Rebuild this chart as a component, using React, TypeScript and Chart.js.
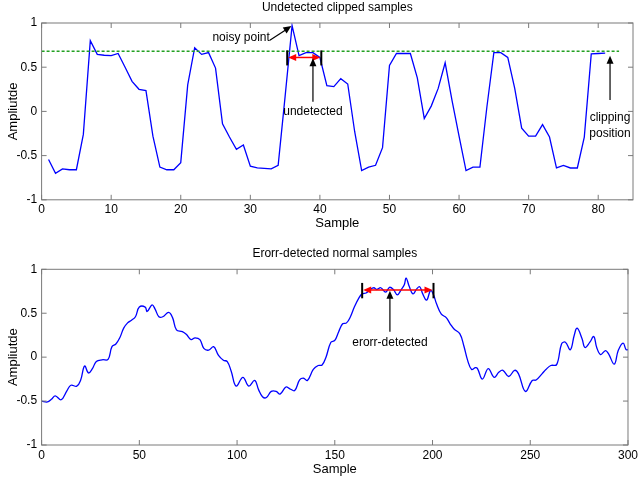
import { useEffect, useRef } from "react";
import { Chart, registerables } from "chart.js";

Chart.register(...registerables);

// ---------- data ----------
const topSamples = [
  1, 2, 3, 4, 5, 6, 7, 8, 9, 10, 11, 12, 13, 14, 15, 16, 17, 18, 19, 20,
  21, 22, 23, 24, 25, 26, 27, 28, 29, 30, 31, 32, 33, 34, 35, 36, 37, 38, 39, 40,
  41, 42, 43, 44, 45, 46, 47, 48, 49, 50, 51, 52, 53, 54, 55, 56, 57, 58, 59, 60,
  61, 62, 63, 64, 65, 66, 67, 68, 69, 70, 71, 72, 73, 74, 75, 76, 77, 78, 79, 80, 81,
];
const topAmplitude = [
  -0.545, -0.7, -0.65, -0.66, -0.66, -0.26, 0.8, 0.645, 0.635, 0.63,
  0.655, 0.5, 0.34, 0.25, 0.235, -0.28, -0.63, -0.66, -0.66, -0.58,
  0.3, 0.72, 0.645, 0.665, 0.49, -0.14, -0.29, -0.43, -0.38, -0.62,
  -0.64, -0.645, -0.65, -0.61, 0.17, 0.97, 0.63, 0.665, 0.665, 0.61,
  0.29, 0.28, 0.37, 0.31, -0.23, -0.67, -0.63, -0.61, -0.41, 0.52,
  0.655, 0.655, 0.655, 0.38, -0.08, 0.06, 0.26, 0.55, 0.12, -0.28,
  -0.67, -0.63, -0.63, 0.05, 0.665, 0.665, 0.61, 0.26, -0.19, -0.28,
  -0.28, -0.15, -0.29, -0.64, -0.61, -0.64, -0.64, -0.29, 0.65, 0.655, 0.66,
];
const clipSamples = [0, 83];
const clipLevel = [0.68, 0.68];

const bottomSamples = [
  0, 3, 5, 7, 10, 13, 15, 18, 20, 22, 24, 26, 28, 31, 34, 36, 38, 40, 42, 44,
  46, 48, 50, 53, 54, 56.5, 58, 60, 62, 65, 67, 69, 72, 74, 76.5, 78.5, 81, 83, 85.5, 88,
  90.5, 93, 95, 97, 99.5, 103, 106, 109, 111, 113, 115, 117.5, 120, 122, 125, 127, 129.5, 132, 134, 136,
  139, 141.5, 143.5, 145.5, 148, 150, 152, 154, 156, 158, 160, 162.5, 164, 166, 168, 170, 171.5, 173.5, 176, 178,
  180, 182, 184, 185.5, 186.5, 188, 190, 192, 193.5, 195, 197, 199, 200.5, 202, 204.5, 207, 209, 211, 214, 216,
  218, 220, 222, 223, 225.5, 228.5, 231.5, 234, 236, 239, 242, 244, 247.5, 251, 253, 256, 258, 260.5, 263.5, 266,
  268, 270.5, 272.5, 274, 276.5, 278, 280.5, 282.5, 284, 286, 288.5, 290, 293, 295, 297.5, 299, 300,
];
const bottomAmplitude = [
  -0.5, -0.51, -0.48, -0.44, -0.485, -0.38, -0.32, -0.33, -0.26, -0.1, -0.18, -0.13, -0.05, -0.03, -0.025, 0.12, 0.15, 0.22, 0.33, 0.39,
  0.42, 0.46, 0.57, 0.57, 0.52, 0.595, 0.55, 0.46, 0.46, 0.51, 0.45, 0.31, 0.29, 0.26, 0.2, 0.22, 0.2, 0.1, 0.08, 0.12,
  0.02, -0.035, -0.05, -0.16, -0.33, -0.23, -0.33, -0.265, -0.37, -0.45, -0.46, -0.39, -0.39, -0.42, -0.34, -0.36, -0.38, -0.26, -0.24, -0.265,
  -0.14, -0.095, -0.09, 0.0, 0.17, 0.19, 0.29, 0.38, 0.39, 0.46, 0.57, 0.68, 0.72, 0.73, 0.77, 0.79, 0.77, 0.79, 0.74, 0.795,
  0.77, 0.71, 0.77, 0.82, 0.9, 0.81, 0.72, 0.78, 0.8, 0.72, 0.65, 0.76, 0.71, 0.61, 0.49, 0.45, 0.38, 0.32, 0.265, 0.13,
  -0.04, -0.14, -0.12, -0.13, -0.25, -0.13, -0.23, -0.17, -0.15, -0.22, -0.15, -0.19, -0.39, -0.265, -0.26, -0.19, -0.14, -0.095, -0.085, 0.15,
  0.17, 0.085, 0.25, 0.33, 0.21, 0.11, 0.17, 0.235, 0.11, 0.03, 0.075, 0.04, -0.08, 0.075, 0.16, 0.085, 0.085,
];

const topTitle = "Undetected clipped samples";
const bottomTitle = "Erorr-detected normal samples";
const xAxisLabel = "Sample";
const yAxisLabel = "Ampliutde";

const FONT = "'Liberation Sans', Arial, sans-serif";

type Ann = (ctx: CanvasRenderingContext2D, chart: any) => void;

function head(ctx: CanvasRenderingContext2D, fx: number, fy: number, tx: number, ty: number, len: number, half: number, color: string) {
  const a = Math.atan2(ty - fy, tx - fx);
  const bx = tx - len * Math.cos(a);
  const by = ty - len * Math.sin(a);
  ctx.beginPath();
  ctx.moveTo(tx, ty);
  ctx.lineTo(bx + half * Math.sin(a), by - half * Math.cos(a));
  ctx.lineTo(bx - half * Math.sin(a), by + half * Math.cos(a));
  ctx.closePath();
  ctx.fillStyle = color;
  ctx.fill();
}

function line(ctx: CanvasRenderingContext2D, x1: number, y1: number, x2: number, y2: number, color: string, w: number) {
  ctx.beginPath();
  ctx.moveTo(x1, y1);
  ctx.lineTo(x2, y2);
  ctx.strokeStyle = color;
  ctx.lineWidth = w;
  ctx.stroke();
}

function text(ctx: CanvasRenderingContext2D, s: string, x: number, y: number, size: number) {
  ctx.font = `${size}px ${FONT}`;
  ctx.fillStyle = "#000";
  ctx.textAlign = "center";
  ctx.textBaseline = "middle";
  ctx.fillText(s, x, y);
}

function bracketArrow(ctx: CanvasRenderingContext2D, chart: any, x1: number, x2: number, yArrow: number, yBarLo: number, yBarHi: number) {
  const sx = chart.scales.x;
  const sy = chart.scales.y;
  const px1 = sx.getPixelForValue(x1);
  const px2 = sx.getPixelForValue(x2);
  const py = sy.getPixelForValue(yArrow);
  line(ctx, px1 + 4, py, px2 - 4, py, "#ff0000", 1.5);
  head(ctx, px2 - 1, py, px1 + 1, py, 8, 3.5, "#ff0000");
  head(ctx, px1 + 1, py, px2 - 1, py, 8, 3.5, "#ff0000");
  const t = sy.getPixelForValue(yBarHi);
  const b = sy.getPixelForValue(yBarLo);
  line(ctx, px1, t, px1, b, "#000", 2);
  line(ctx, px2, t, px2, b, "#000", 2);
}

function blackArrow(ctx: CanvasRenderingContext2D, chart: any, x1: number, y1: number, x2: number, y2: number) {
  const sx = chart.scales.x;
  const sy = chart.scales.y;
  const a = sx.getPixelForValue(x1);
  const b = sy.getPixelForValue(y1);
  const c = sx.getPixelForValue(x2);
  const d = sy.getPixelForValue(y2);
  const ang = Math.atan2(d - b, c - a);
  line(ctx, a, b, c - 6 * Math.cos(ang), d - 6 * Math.sin(ang), "#000", 1.2);
  head(ctx, a, b, c, d, 8, 3.5, "#000");
}

const topAnn: Ann = (ctx, chart) => {
  const sx = chart.scales.x;
  const sy = chart.scales.y;
  bracketArrow(ctx, chart, 35.3, 40.2, 0.61, 0.52, 0.69);
  blackArrow(ctx, chart, 39.0, 0.11, 39.0, 0.6);
  text(ctx, "undetected", sx.getPixelForValue(39.0), sy.getPixelForValue(0.0), 12);
  blackArrow(ctx, chart, 32.8, 0.805, 35.9, 0.965);
  ctx.font = `12px ${FONT}`;
  ctx.textAlign = "right";
  ctx.textBaseline = "middle";
  ctx.fillStyle = "#000";
  ctx.fillText("noisy point", sx.getPixelForValue(32.8), sy.getPixelForValue(0.83));
  blackArrow(ctx, chart, 81.7, 0.13, 81.7, 0.63);
  text(ctx, "clipping", sx.getPixelForValue(81.7), sy.getPixelForValue(-0.075), 12);
  text(ctx, "position", sx.getPixelForValue(81.7), sy.getPixelForValue(-0.255), 12);
};

const bottomAnn: Ann = (ctx, chart) => {
  const sx = chart.scales.x;
  const sy = chart.scales.y;
  bracketArrow(ctx, chart, 164, 200.5, 0.765, 0.67, 0.845);
  blackArrow(ctx, chart, 178.2, 0.29, 178.2, 0.755);
  text(ctx, "erorr-detected", sx.getPixelForValue(178.2), sy.getPixelForValue(0.17), 12);
};

function makeChart(
  canvas: HTMLCanvasElement,
  datasets: any[],
  xMax: number,
  xStep: number,
  title: string,
  titleY: number,
  padTop: number,
  xAxisHeight: number,
  xTitlePad: number,
  ann: Ann
) {
  const framePlugin = {
    id: "frame",
    afterDatasetsDraw(chart: any) {
      const { ctx, chartArea: a } = chart;
      ctx.save();
      ctx.strokeStyle = "#7a7a7a";
      ctx.lineWidth = 1;
      ctx.strokeRect(a.left, a.top, a.right - a.left, a.bottom - a.top);
      const sx = chart.scales.x;
      const sy = chart.scales.y;
      ctx.beginPath();
      for (const t of sx.ticks) {
        const p = sx.getPixelForValue(t.value);
        ctx.moveTo(p, a.bottom);
        ctx.lineTo(p, a.bottom - 5);
        ctx.moveTo(p, a.top);
        ctx.lineTo(p, a.top + 5);
      }
      for (const t of sy.ticks) {
        const p = sy.getPixelForValue(t.value);
        ctx.moveTo(a.left, p);
        ctx.lineTo(a.left + 5, p);
        ctx.moveTo(a.right, p);
        ctx.lineTo(a.right - 5, p);
      }
      ctx.stroke();
      text(ctx, title, (a.left + a.right) / 2, titleY, 12);
      ann(ctx, chart);
      ctx.restore();
    },
  };

  return new Chart(canvas, {
    type: "line",
    data: { datasets },
    options: {
      animation: false,
      responsive: false,
      events: [],
      layout: { padding: { left: 0, right: 8, top: padTop, bottom: 0 } },
      plugins: { legend: { display: false }, tooltip: { enabled: false }, title: { display: false } },
      scales: {
        x: {
          type: "linear",
          min: 0,
          max: xMax,
          grid: { display: false, drawTicks: false },
          border: { display: false },
          ticks: { stepSize: xStep, includeBounds: false, padding: 3, color: "#000", font: { family: FONT, size: 12 }, maxRotation: 0 },
          title: { display: true, text: xAxisLabel, color: "#000", font: { family: FONT, size: 13 }, padding: { top: 0, bottom: xTitlePad } },
          afterFit: (s: any) => {
            s.height = xAxisHeight;
          },
        },
        y: {
          min: -1,
          max: 1,
          grid: { display: false, drawTicks: false },
          border: { display: false },
          ticks: {
            stepSize: 0.5,
            padding: 4.5,
            color: "#000",
            font: { family: FONT, size: 12 },
            callback: (v: any) => String(Number(v)),
          },
          title: { display: true, text: yAxisLabel, color: "#000", font: { family: FONT, size: 13 }, padding: { top: 6, bottom: 0 } },
          afterFit: (s: any) => {
            s.width = 41.6;
          },
        },
      },
    },
    plugins: [framePlugin],
  } as any);
}

export default function App() {
  const topRef = useRef<HTMLCanvasElement>(null);
  const botRef = useRef<HTMLCanvasElement>(null);

  useEffect(() => {
    document.body.style.margin = "0";
    const topData = topSamples.map((x, i) => ({ x, y: topAmplitude[i] }));
    const clipData = clipSamples.map((x, i) => ({ x, y: clipLevel[i] }));
    const botData = bottomSamples.map((x, i) => ({ x, y: bottomAmplitude[i] }));

    const c1 = makeChart(
      topRef.current!,
      [
        { data: clipData, borderColor: "#22a022", borderWidth: 1.5, borderDash: [3, 2], pointRadius: 0, tension: 0 },
        { data: topData, borderColor: "#0000ff", borderWidth: 1.3, pointRadius: 0, tension: 0 },
      ],
      85,
      10,
      topTitle,
      8,
      23,
      41.2,
      9.8,
      topAnn
    );
    const c2 = makeChart(
      botRef.current!,
      [{ data: botData, borderColor: "#0000ff", borderWidth: 1.3, pointRadius: 0, tension: 0.4 }],
      300,
      50,
      bottomTitle,
      13,
      28.3,
      37,
      4.8,
      bottomAnn
    );
    return () => {
      c1.destroy();
      c2.destroy();
    };
  }, []);

  return (
    <div style={{ position: "fixed", left: 0, top: 0, width: 641, height: 482, background: "#fff" }}>
      <canvas ref={topRef} width={641} height={241} style={{ position: "absolute", left: 0, top: 0 }} />
      <canvas ref={botRef} width={641} height={241} style={{ position: "absolute", left: 0, top: 241 }} />
    </div>
  );
}
